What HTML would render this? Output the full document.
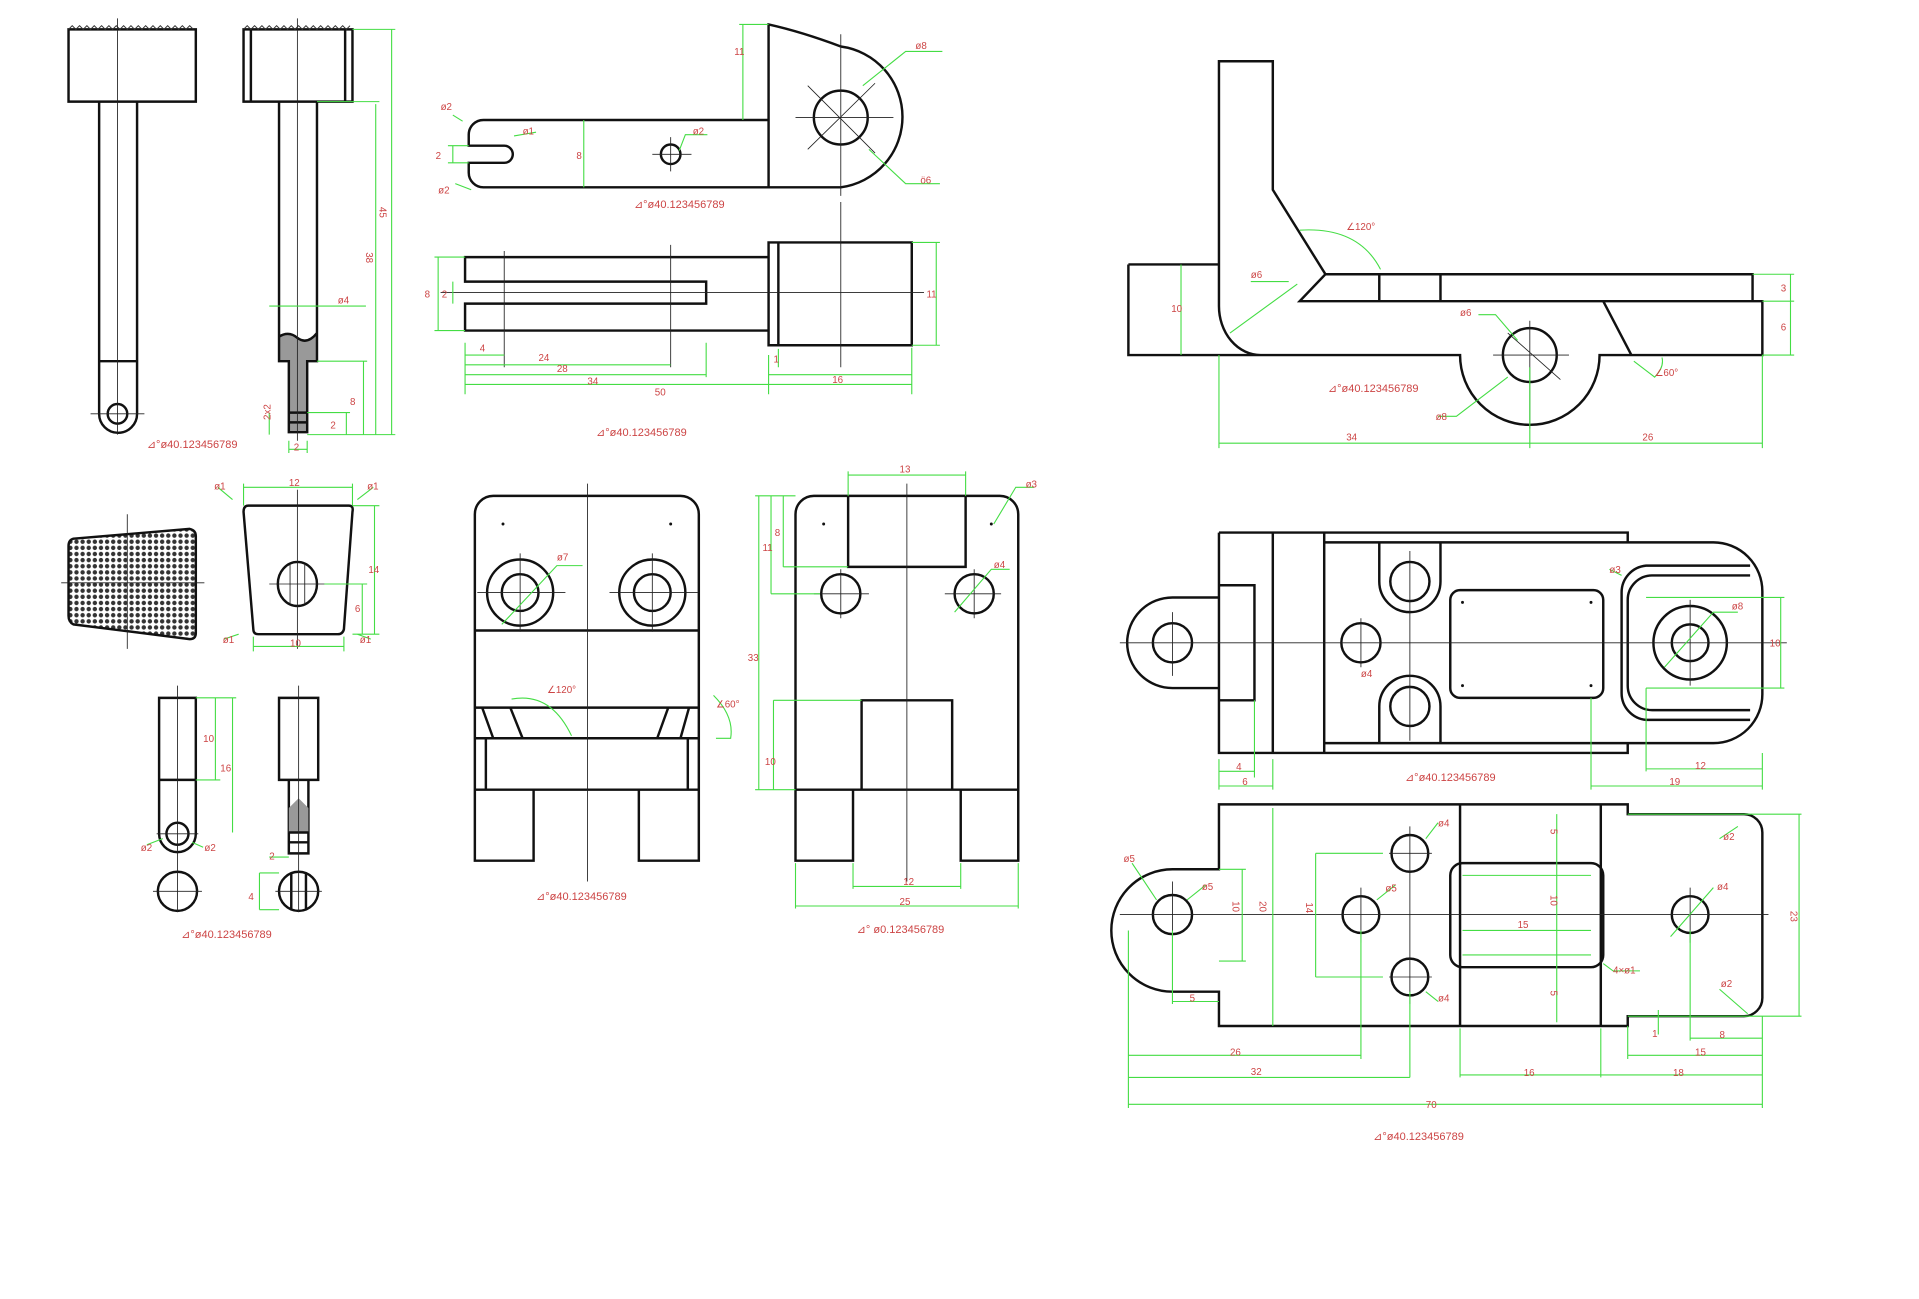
<!DOCTYPE html>
<html><head><meta charset="utf-8"><style>
html,body{margin:0;padding:0;background:#fff;width:1919px;height:1299px;overflow:hidden}
svg{display:block}
.k{fill:none;stroke:#111;stroke-width:2}
.c{fill:none;stroke:#222;stroke-width:0.7}
.g{fill:none;stroke:#4d4;stroke-width:0.9}
text{font-family:"Liberation Sans",sans-serif;font-size:8px;fill:#c44}
.cap{font-size:9px}
</style></head><body>
<svg width="1919" height="1299" viewBox="0 0 1568 1061" preserveAspectRatio="none">
<defs>
<pattern id="hx" width="5" height="5" patternUnits="userSpaceOnUse"><rect width="5" height="5" fill="#fff"/><circle cx="2.5" cy="2.5" r="1.8" fill="#333"/></pattern>
</defs>

<!-- Hammer 1 -->
<path class="k" d="M56,24 H160 V83 H56 Z"/>
<path d="M56,24 l3,-3 3,3 3,-3 3,3 3,-3 3,3 3,-3 3,3 3,-3 3,3 3,-3 3,3 3,-3 3,3 3,-3 3,3 3,-3 3,3 3,-3 3,3 3,-3 3,3 3,-3 3,3 3,-3 3,3 3,-3 3,3 3,-3 3,3 3,-3 3,3 3,-3 3,3" fill="none" stroke="#333" stroke-width="0.8"/>
<path class="k" d="M81,83 V338 A15,15 0 0 0 112,338 V83 M81,295 H112"/>
<circle class="k" cx="96" cy="338" r="8"/>
<path class="c" d="M96,15 V355 M74,338 H118"/>

<!-- Hammer 2 -->
<path class="k" d="M199,24 H288 V83 H199 Z M205,24 V83 M282,24 V83"/>
<path d="M199,24 l3,-3 3,3 3,-3 3,3 3,-3 3,3 3,-3 3,3 3,-3 3,3 3,-3 3,3 3,-3 3,3 3,-3 3,3 3,-3 3,3 3,-3 3,3 3,-3 3,3 3,-3 3,3 3,-3 3,3 3,-3 3,3 3,-3" fill="none" stroke="#333" stroke-width="0.8"/>
<path d="M228,275 Q236,270 243,276 Q251,282 259,272 V295 H251 V353 H236 V295 H228 Z" fill="#999"/>
<path class="k" d="M228,83 V295 H236 V353 H251 V295 H259 V83 M228,275 Q236,270 243,276 Q251,282 259,272 M236,337 H251 M236,345 H251"/>
<path class="c" d="M243,15 V360"/>
<path class="g" d="M288,24 H323 M320,24 V355 M259,83 H310 M307,85 V355 M259,295 H300 M297,295 V355 M251,337 H286 M283,337 V355 M251,355 H323 M220,337 V355 M236,360 V370 M251,360 V370 M236,367 H251 M220,250 H299"/>
<text x="310" y="175" transform="rotate(90 313 172)">45</text>
<text x="298" y="213" transform="rotate(90 302 210)">38</text>
<text x="276" y="248">ø4</text>
<text x="286" y="331">8</text>
<text x="216" y="344" transform="rotate(-90 218 341)">2x2</text>
<text x="270" y="350">2</text>
<text x="240" y="368">2</text>
<text class="cap" x="120" y="366">⊿°ø40.123456789</text>

<!-- Top middle plate -->
<path class="k" d="M628,98 H395 A12,12 0 0 0 383,110 V119 H412 A7,7 0 0 1 412,133 H383 V141 A12,12 0 0 0 395,153 H687 A58,58 0 0 0 687,38 Q655,26 628,20 V153"/>
<circle class="k" cx="687" cy="96" r="22"/>
<circle class="k" cx="548" cy="126" r="8"/>
<path class="c" d="M687,28 V160 M650,96 H730 M533,126 H565 M548,112 V140 M660,70 L715,125 M660,122 L715,68"/>
<path class="g" d="M604,20 H628 M607,20 V98 M477,98 V153 M370,119 V133 M366,119 H383 M366,133 H383 M370,94 L378,99 M372,150 L385,155 M420,111 L438,108 M705,70 L740,42 H770 M710,122 L740,150 H768 M555,123 L560,110 H578"/>
<text x="360" y="90">ø2</text><text x="358" y="158">ø2</text><text x="427" y="110">ø1</text><text x="566" y="110">ø2</text>
<text x="748" y="40">ø8</text><text x="752" y="150">ö6</text><text x="471" y="130">8</text><text x="356" y="130">2</text><text x="600" y="45">11</text>
<text class="cap" x="518" y="170">⊿°ø40.123456789</text>

<!-- Top view fork -->
<path class="k" d="M628,210 H380 V230 H577 V248 H380 V270 H628 M628,198 H745 V282 H628 Z M636,198 V282"/>
<path class="c" d="M687,165 V300 M360,239 H755 M412,205 V300 M548,200 V300"/>
<path class="g" d="M355,210 H380 M355,270 H380 M358,210 V270 M370,230 V248 M745,198 H768 M745,282 H768 M765,198 V282 M380,290 H412 M380,298 H548 M380,306 H577 M380,314 H745 M628,306 H745 M380,280 V322 M628,290 V322 M577,280 V308 M745,284 V322 M636,285 V300"/>
<text x="392" y="287">4</text><text x="440" y="295">24</text><text x="455" y="304">28</text><text x="480" y="314">34</text><text x="535" y="323">50</text><text x="680" y="313">16</text><text x="757" y="243">11</text><text x="347" y="243">8</text><text x="361" y="243">2</text><text x="632" y="296">1</text>
<text class="cap" x="487" y="356">⊿°ø40.123456789</text>

<!-- L-bracket -->
<path class="k" d="M996,50 H1040 V155 L1083,224 L1062,246 H1440 V290 H1307 A57,57 0 0 1 1193,290 H1030 A34,40 0 0 1 996,250 Z M922,216 H996 M922,216 V290 H1030 M1083,224 H1432 V246 M1127,224 V246 M1177,224 V246 M1310,246 L1333,290"/>
<circle class="k" cx="1250" cy="290" r="22"/>
<path class="c" d="M1250,262 V350 M1220,290 H1282 M1232,272 L1275,310"/>
<path class="g" d="M965,216 V290 M996,290 V366 M1440,290 V366 M1250,300 V366 M996,362 H1440 M1432,224 H1466 M1440,246 H1466 M1440,290 H1466 M1463,224 V290 M1062,188 Q1110,185 1128,220 M1005,272 L1060,232 M1022,230 H1053 M1175,340 H1190 L1232,308 M1208,257 H1222 L1240,278 M1335,295 L1352,308 Q1360,300 1358,292"/>
<text x="1100" y="360">34</text><text x="1342" y="360">26</text><text x="1100" y="188">∠120°</text><text x="1022" y="227">ø6</text><text x="1193" y="258">ø6</text><text x="1173" y="343">ø8</text><text x="1352" y="307">∠60°</text><text x="1455" y="238">3</text><text x="1455" y="270">6</text><text x="957" y="255">10</text>
<text class="cap" x="1085" y="320">⊿°ø40.123456789</text>

<!-- Hatched trapezoid -->
<path d="M60,440 L155,432 Q160,433 160,438 V517 Q160,522 155,522 L60,510 Q56,508 56,503 V446 Q56,441 60,440 Z" fill="url(#hx)" stroke="#111" stroke-width="2"/>
<path class="c" d="M104,420 V530 M50,476 H167"/>
<!-- Trapezoid 2 -->
<path class="k" d="M203,413 H285 Q289,413 288,418 L281,514 Q280,518 276,518 H211 Q207,518 207,514 L199,418 Q199,413 203,413 Z"/>
<ellipse class="k" cx="243" cy="477" rx="16" ry="18"/>
<path class="c" d="M243,400 V530 M220,477 H270 M237,461 V493 M249,461 V493"/>
<path class="g" d="M199,398 H288 M199,395 V413 M288,395 V413 M288,413 H310 M306,413 V518 M265,477 H300 M296,477 V518 M288,518 H310 M207,528 H281 M207,520 V532 M281,520 V532 M190,408 L178,398 M292,408 L305,398 M195,518 L183,522 M292,518 L303,522"/>
<text x="236" y="397">12</text><text x="175" y="400">ø1</text><text x="300" y="400">ø1</text><text x="182" y="525">ø1</text><text x="294" y="525">ø1</text><text x="237" y="528">10</text><text x="301" y="468">14</text><text x="290" y="500">6</text>

<!-- small pins -->
<path class="k" d="M130,570 H160 V681 A15,15 0 0 1 130,681 Z M130,637 H160"/>
<circle class="k" cx="145" cy="681" r="9"/>
<path class="k" d="M228,570 H260 V637 H252 V697 H236 V637 H228 Z M228,637 H260"/>
<path d="M236,660 L244,652 L252,660 V680 H236 Z" fill="#999"/>
<path class="k" d="M236,680 H252 M236,688 H252"/>
<circle class="k" cx="145" cy="728" r="16"/>
<circle class="k" cx="244" cy="728" r="16"/>
<path class="k" d="M238,713 V743 M250,713 V743"/>
<path class="c" d="M145,560 V745 M125,728 H165 M244,560 V745 M225,728 H263 M128,681 H162"/>
<path class="g" d="M160,570 H193 M190,570 V680 M160,637 H180 M176,570 V637 M120,690 L133,685 M157,688 L166,692 M212,713 V743 M212,713 H228 M212,743 H228 M220,700 H236"/>
<text x="166" y="606">10</text><text x="180" y="630">16</text><text x="115" y="695">ø2</text><text x="167" y="695">ø2</text><text x="220" y="702">2</text><text x="203" y="735">4</text>
<text class="cap" x="148" y="766">⊿°ø40.123456789</text>

<!-- front block -->
<path class="k" d="M403,405 H556 A15,15 0 0 1 571,420 V703 H522 V645 H436 V703 H388 V420 A15,15 0 0 1 403,405 Z M388,515 H571 M388,578 H571 M388,603 H571 M388,645 H571 M397,603 V645 M562,603 V645 M394,578 L403,603 M417,578 L427,603 M546,578 L537,603 M563,578 L556,603"/>
<circle class="k" cx="425" cy="484" r="27"/><circle class="k" cx="425" cy="484" r="15"/>
<circle class="k" cx="533" cy="484" r="27"/><circle class="k" cx="533" cy="484" r="15"/>
<path class="c" d="M480,395 V720 M390,484 H462 M498,484 H570 M425,452 V516 M533,452 V516"/>
<circle cx="411" cy="428" r="1.2" fill="#111"/><circle cx="548" cy="428" r="1.2" fill="#111"/>
<path class="g" d="M410,510 L455,462 H476 M418,571 Q450,565 467,601 M583,568 Q600,585 597,603 H585"/>
<text x="455" y="458">ø7</text><text x="447" y="566">∠120°</text><text x="585" y="578">∠60°</text>
<text class="cap" x="438" y="735">⊿°ø40.123456789</text>

<!-- side block -->
<path class="k" d="M665,405 H817 A15,15 0 0 1 832,420 V703 H785 V645 H697 V703 H650 V420 A15,15 0 0 1 665,405 Z M693,405 V463 H789 V405 M704,645 V572 H778 V645 M650,645 H832"/>
<circle class="k" cx="687" cy="485" r="16"/><circle class="k" cx="796" cy="485" r="16"/>
<path class="c" d="M741,395 V720 M665,485 H710 M772,485 H818 M687,465 V505 M796,465 V505"/>
<circle cx="673" cy="428" r="1.2" fill="#111"/><circle cx="810" cy="428" r="1.2" fill="#111"/>
<path class="g" d="M693,385 V405 M789,385 V405 M693,388 H789 M617,405 H650 M620,405 V645 M630,405 V485 M640,405 V463 M640,463 H693 M630,485 H670 M617,645 H650 M632,572 V645 M632,572 H704 M650,705 V742 M832,705 V742 M650,740 H832 M697,705 V726 M785,705 V726 M697,724 H785 M812,428 L830,398 H845 M780,500 L810,465 H825"/>
<text x="735" y="386">13</text><text x="838" y="398">ø3</text><text x="812" y="464">ø4</text><text x="738" y="723">12</text><text x="735" y="739">25</text><text x="611" y="540">33</text><text x="623" y="450">11</text><text x="633" y="438">8</text><text x="625" y="625">10</text>
<text class="cap" x="700" y="762">⊿° ø0.123456789</text>

<!-- bottom-right top view -->
<path class="k" d="M996,435 H1330 V443 M996,435 V615 H1330 V607 M1040,435 V615 M1082,435 V615 M1082,443 H1400 A40,40 0 0 1 1440,483 V567 A40,40 0 0 1 1400,607 H1082 M1330,443 V435 M1330,615 V607 M1430,470 H1350 A20,20 0 0 0 1330,490 V560 A20,20 0 0 0 1350,580 H1430 M1430,462 H1345 A22,22 0 0 0 1325,484 V566 A22,22 0 0 0 1345,588 H1430 M996,488 H958 A37,37 0 0 0 958,562 H996 M996,478 H1025 V572 H996 M1127,443 V475 A25,25 0 0 0 1177,475 V443 M1127,607 V577 A25,25 0 0 1 1177,577 V607"/>
<rect class="k" x="1185" y="482" width="125" height="88" rx="8"/>
<circle class="k" cx="958" cy="525" r="16"/><circle class="k" cx="1152" cy="475" r="16"/><circle class="k" cx="1112" cy="525" r="16"/><circle class="k" cx="1152" cy="577" r="16"/>
<circle class="k" cx="1381" cy="525" r="30"/><circle class="k" cx="1381" cy="525" r="15"/>
<path class="c" d="M915,525 H1460 M958,500 V552 M1152,450 V605 M1112,505 V545 M1381,490 V560"/>
<circle cx="1195" cy="492" r="1.2" fill="#111"/><circle cx="1300" cy="492" r="1.2" fill="#111"/><circle cx="1195" cy="560" r="1.2" fill="#111"/><circle cx="1300" cy="560" r="1.2" fill="#111"/>
<path class="g" d="M996,620 V645 M1025,572 V635 M1040,620 V645 M996,630 H1025 M996,642 H1040 M1345,488 H1458 M1345,562 H1458 M1455,488 V562 M1345,562 V630 M1440,615 V645 M1300,570 V645 M1345,628 H1440 M1300,642 H1440 M1360,545 L1400,500 H1420 M1315,465 L1325,470"/>
<text x="1010" y="629">4</text><text x="1015" y="641">6</text><text x="1385" y="628">12</text><text x="1364" y="641">19</text><text x="1446" y="528">10</text><text x="1415" y="498">ø8</text><text x="1315" y="468">ø3</text><text x="1112" y="553">ø4</text>
<text class="cap" x="1148" y="638">⊿°ø40.123456789</text>

<!-- bottom-right bottom view -->
<path class="k" d="M996,657 H1330 V665 H1425 A15,15 0 0 1 1440,680 V815 A15,15 0 0 1 1425,830 H1330 V838 H996 V810 H958 A37,37 0 0 1 958,710 H996 Z M1193,657 V838 M1308,657 V838"/>
<rect class="k" x="1185" y="705" width="125" height="85" rx="10"/>
<circle class="k" cx="958" cy="747" r="16"/><circle class="k" cx="1152" cy="697" r="15"/><circle class="k" cx="1112" cy="747" r="15"/><circle class="k" cx="1152" cy="798" r="15"/><circle class="k" cx="1381" cy="747" r="15"/>
<path class="c" d="M915,747 H1445 M958,720 V775 M1152,675 V820 M1112,725 V770 M1381,725 V770 M1135,697 H1170 M1135,798 H1170"/>
<path class="g" d="M1195,715 H1300 M1195,780 H1300 M1195,760 H1300 M1272,665 V835 M1330,665 H1472 M1330,830 H1472 M1470,665 V830 M996,710 H1018 M996,785 H1018 M1015,710 V785 M1040,660 V838 M1075,697 H1130 M1075,798 H1130 M1075,697 V798 M958,760 V820 M958,818 H996 M922,760 V905 M1112,760 V865 M1152,810 V880 M1193,840 V880 M1308,840 V880 M1330,838 V865 M1355,825 V845 M1381,760 V850 M1440,830 V905 M922,862 H1112 M922,880 H1152 M1193,878 H1440 M1330,862 H1440 M1381,848 H1440 M922,902 H1440 M1310,787 L1318,793 H1340 M1405,685 L1420,675 M1405,808 L1428,828 M1365,765 L1400,725 M925,705 L945,735 M970,735 L985,723 M1125,735 L1140,723 M1165,685 L1175,672 M1165,810 L1175,818"/>
<text x="1006" y="743" transform="rotate(90 1010 740)">10</text><text x="1028" y="743" transform="rotate(90 1032 740)">20</text><text x="1067" y="743" transform="rotate(90 1070 740)">14</text>
<text x="1266" y="684" transform="rotate(90 1270 681)">5</text><text x="1266" y="738" transform="rotate(90 1270 735)">10</text><text x="1266" y="816" transform="rotate(90 1270 813)">5</text><text x="1462" y="751" transform="rotate(90 1466 748)">23</text>
<text x="1240" y="758">15</text><text x="972" y="818">5</text><text x="1005" y="862">26</text><text x="1022" y="878">32</text><text x="1165" y="905">70</text><text x="1245" y="879">16</text><text x="1367" y="879">18</text><text x="1385" y="862">15</text><text x="1405" y="848">8</text><text x="1350" y="847">1</text><text x="1318" y="795">4×ø1</text>
<text x="918" y="704">ø5</text><text x="982" y="727">ø5</text><text x="1132" y="728">ø5</text><text x="1175" y="675">ø4</text><text x="1175" y="818">ø4</text><text x="1403" y="727">ø4</text><text x="1408" y="686">ø2</text><text x="1406" y="806">ø2</text>
<text class="cap" x="1122" y="931">⊿°ø40.123456789</text>
</svg>
</body></html>
